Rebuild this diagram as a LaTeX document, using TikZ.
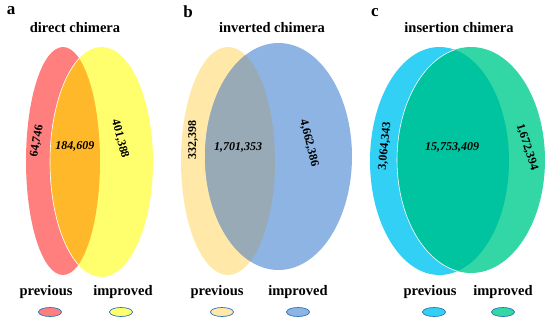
\documentclass[tikz,border=0pt]{standalone}
\usepackage{fontspec}
\setmainfont{Liberation Serif}
\usepackage{tikz}
\definecolor{aL}{HTML}{FF7F7F}
\definecolor{aR}{HTML}{FFFF6E}
\definecolor{aO}{HTML}{FFB829}
\definecolor{bL}{HTML}{FFE8A8}
\definecolor{bR}{HTML}{8EB4E3}
\definecolor{bO}{HTML}{98AAB6}
\definecolor{cL}{HTML}{33D0F5}
\definecolor{cR}{HTML}{33D6A5}
\definecolor{cO}{HTML}{00C4A0}
\definecolor{legline}{HTML}{2E75B6}
\tikzset{
  paneltag/.style={font=\fontsize{17}{17}\selectfont\bfseries},
  paneltitle/.style={font=\fontsize{14.5}{15}\selectfont\bfseries},
  num/.style={font=\fontsize{12}{12}\selectfont\bfseries\itshape},
  sidenum/.style={font=\fontsize{12}{12}\selectfont\bfseries},
  legtext/.style={font=\fontsize{14.5}{15}\selectfont\bfseries},
  legell/.style={draw=legline, line width=0.7pt},
}
\begin{document}
\begin{tikzpicture}[x=1pt,y=-1pt]
\useasboundingbox (0,0) rectangle (550,325);
% ---------- panel a ----------
\fill[aL] (63,161) ellipse [x radius=37, y radius=114];
\fill[aR] (101.5,162) ellipse [x radius=51.5, y radius=115];
\begin{scope}
  \clip (63,161) ellipse [x radius=37, y radius=114];
  \fill[aO] (101.5,162) ellipse [x radius=51.5, y radius=115];
  \draw[white, line width=0.6pt] (101.5,162) ellipse [x radius=51.5, y radius=115];
\end{scope}
\node[paneltag] (ta) at (11,11) {a};
\node[paneltitle] (tia) at (75,28) {direct chimera};
\node[sidenum, rotate=80] (na1) at (37,141) {64,746};
\node[num] (na2) at (75,146) {184,609};
\node[sidenum, rotate=-75] (na3) at (120,139) {401,388};
\node[legtext] (pa) at (46,292) {previous};
\node[legtext] (ia) at (123,292) {improved};
\draw[legell, fill=aL] (50,312) ellipse [x radius=11.5, y radius=4.5];
\draw[legell, fill=aR] (121,312) ellipse [x radius=11.5, y radius=4.5];
% ---------- panel b ----------
\fill[bL] (228,161) ellipse [x radius=47, y radius=114];
\fill[bR] (278.5,156.5) ellipse [x radius=73.5, y radius=113.5];
\begin{scope}
  \clip (228,161) ellipse [x radius=47, y radius=114];
  \fill[bO] (278.5,156.5) ellipse [x radius=73.5, y radius=113.5];
\end{scope}
\node[paneltag] (tb) at (188,12) {b};
\node[paneltitle] (tib) at (272,28) {inverted chimera};
\node[sidenum, rotate=90] (nb1) at (193,140) {332,398};
\node[num] (nb2) at (238,147) {1,701,353};
\node[sidenum, rotate=-76] (nb3) at (309,143) {4,662,386};
\node[legtext] (pb) at (217,292) {previous};
\node[legtext] (ib) at (298,292) {improved};
\draw[legell, fill=bL] (222,312) ellipse [x radius=11.5, y radius=4.5];
\draw[legell, fill=bR] (298,312) ellipse [x radius=11.5, y radius=4.5];
% ---------- panel c ----------
\fill[cL] (439.5,161) ellipse [x radius=69.5, y radius=114];
\fill[cR] (471,160) ellipse [x radius=74, y radius=113];
\begin{scope}
  \clip (439.5,161) ellipse [x radius=69.5, y radius=114];
  \fill[cO] (471,160) ellipse [x radius=74, y radius=113];
  \draw[white, line width=0.6pt] (471,160) ellipse [x radius=74, y radius=113];
\end{scope}
\node[paneltag] (tc) at (375,13) {c};
\node[paneltitle] (tic) at (459,28) {insertion chimera};
\node[sidenum, rotate=84] (nc1) at (385,146) {3,064,343};
\node[num] (nc2) at (452,147) {15,753,409};
\node[sidenum, rotate=-72] (nc3) at (527,147) {1,672,394};
\node[legtext] (pc) at (430,292) {previous};
\node[legtext] (ic) at (503,292) {improved};
\draw[legell, fill=cL] (434,312) ellipse [x radius=11.5, y radius=4.5];
\draw[legell, fill=cR] (503,312) ellipse [x radius=11.5, y radius=4.5];
\end{tikzpicture}
\end{document}
